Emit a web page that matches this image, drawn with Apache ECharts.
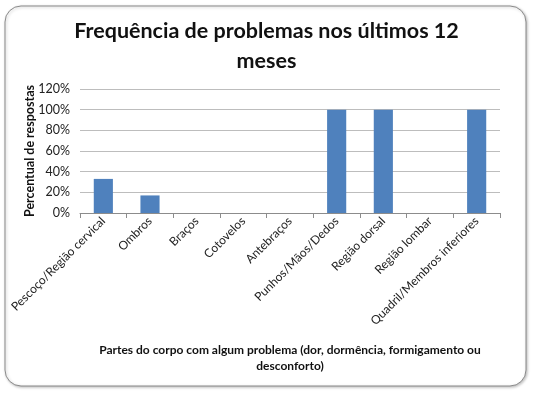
<!DOCTYPE html>
<html><head><meta charset="utf-8">
<script src="https://cdn.jsdelivr.net/npm/echarts@6/dist/echarts.min.js"></script>
<style>html,body{margin:0;padding:0;background:#fff}#c{width:533px;height:393px}</style>
</head><body><div id="c"></div>
<script>
const categories = ['Pescoço/Região cervical','Ombros','Braços','Cotovelos','Antebraços','Punhos/Mãos/Dedos','Região dorsal','Região lombar','Quadril/Membros inferiores'];
const values = [33, 17, 0, 0, 0, 100, 100, 0, 100];
const yTicks = [0, 20, 40, 60, 80, 100, 120];
const chart = echarts.init(document.getElementById('c'));
const font = 'Lato, "Open Sans", sans-serif';
chart.setOption({
  animation: false,
  textStyle: {fontFamily: font},
  graphic: [{
    type: 'rect', z: -10,
    shape: {x: 5, y: 6, width: 521, height: 380, r: 16},
    style: {fill: '#fff', stroke: '#8a8a8a', lineWidth: 1, shadowBlur: 3, shadowOffsetX: 1, shadowOffsetY: 1, shadowColor: 'rgba(0,0,0,0.25)'}
  }],
  title: {
    text: 'Frequência de problemas nos últimos 12\nmeses',
    left: 'center', top: 11,
    textStyle: {fontFamily: font, fontSize: 21.5, fontWeight: 'bold', color: '#111', lineHeight: 30}
  },
  grid: {left: 80, right: 33, top: 89, bottom: 180},
  xAxis: {
    type: 'category', data: categories,
    name: 'Partes do corpo com algum problema (dor, dormência, formigamento ou\ndesconforto)',
    nameLocation: 'middle', nameGap: 129, nameMoveOverlap: false,
    nameTextStyle: {fontFamily: font, fontSize: 12, fontWeight: 'bold', color: '#111', lineHeight: 16},
    axisLine: {lineStyle: {color: '#8c8c8c'}},
    axisTick: {show: true, length: 5, lineStyle: {color: '#8c8c8c'}},
    axisLabel: {rotate: 45, interval: 0, fontSize: 12, color: '#222', margin: 6}
  },
  yAxis: {
    type: 'value', min: 0, max: 120, interval: 20,
    name: 'Percentual de respostas',
    nameLocation: 'middle', nameGap: 44, nameMoveOverlap: false,
    nameTextStyle: {fontFamily: font, fontSize: 12.5, fontWeight: 'bold', color: '#111'},
    axisLine: {show: false}, axisTick: {show: false},
    axisLabel: {formatter: v => yTicks.includes(v) ? v + '%' : '', fontSize: 12.5, color: '#222', margin: 10},
    splitLine: {lineStyle: {color: '#bdbdbd'}}
  },
  series: [{
    type: 'bar', data: values, barWidth: '41%',
    itemStyle: {color: '#4f81bd'}
  }]
});
</script></body></html>
